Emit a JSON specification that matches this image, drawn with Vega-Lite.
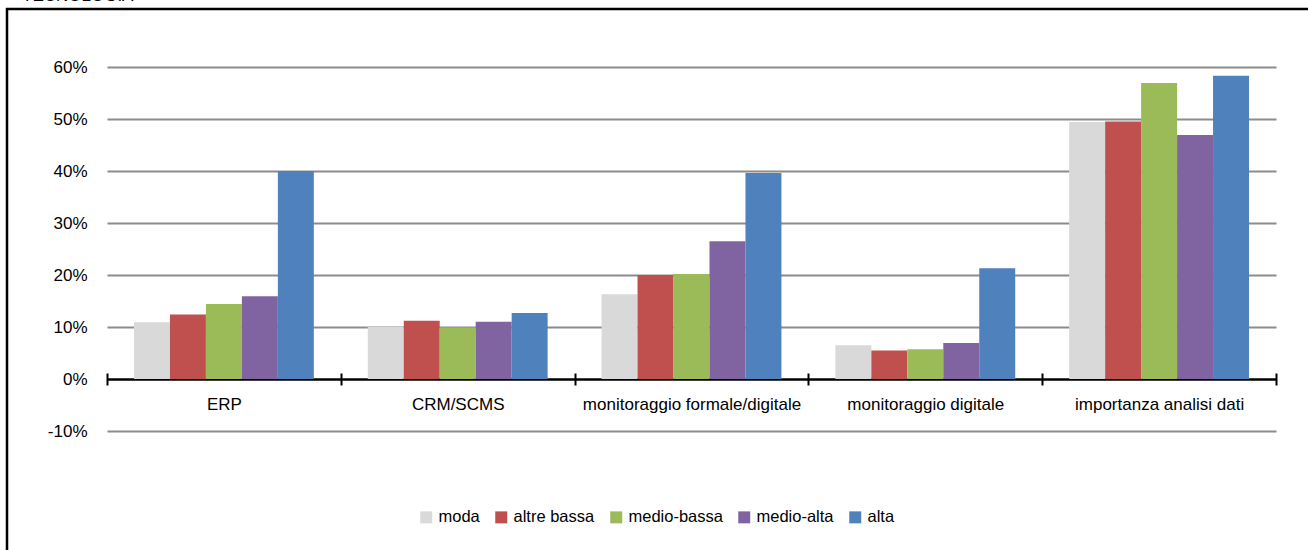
{
  "$schema": "https://vega.github.io/schema/vega-lite/v6.json",
  "width": 1330,
  "height": 580,
  "autosize": "none",
  "padding": {"left": 7, "top": 9, "right": 0, "bottom": 0},
  "background": "white",
  "config": {
    "view": {"stroke": "black", "strokeWidth": 2.5},
    "font": "Liberation Sans, Arial",
    "axis": {"labelFont": "Liberation Sans, Arial", "labelColor": "black"},
    "legend": {"labelFont": "Liberation Sans, Arial"}
  },
  "title": {
    "text": "TECNOLOGIA",
    "anchor": "start",
    "frame": "group",
    "offset": 4,
    "dx": 15,
    "fontSize": 17,
    "fontWeight": "normal",
    "color": "black",
    "font": "Liberation Sans, Arial"
  },
  "data": {
    "values": [
      {"categoria": "ERP", "gruppo": "moda", "valore": 0.109},
      {"categoria": "ERP", "gruppo": "altre bassa", "valore": 0.124},
      {"categoria": "ERP", "gruppo": "medio-bassa", "valore": 0.144},
      {"categoria": "ERP", "gruppo": "medio-alta", "valore": 0.159},
      {"categoria": "ERP", "gruppo": "alta", "valore": 0.400},
      {"categoria": "CRM/SCMS", "gruppo": "moda", "valore": 0.100},
      {"categoria": "CRM/SCMS", "gruppo": "altre bassa", "valore": 0.112},
      {"categoria": "CRM/SCMS", "gruppo": "medio-bassa", "valore": 0.099},
      {"categoria": "CRM/SCMS", "gruppo": "medio-alta", "valore": 0.110},
      {"categoria": "CRM/SCMS", "gruppo": "alta", "valore": 0.127},
      {"categoria": "monitoraggio formale/digitale", "gruppo": "moda", "valore": 0.163},
      {"categoria": "monitoraggio formale/digitale", "gruppo": "altre bassa", "valore": 0.200},
      {"categoria": "monitoraggio formale/digitale", "gruppo": "medio-bassa", "valore": 0.202},
      {"categoria": "monitoraggio formale/digitale", "gruppo": "medio-alta", "valore": 0.265},
      {"categoria": "monitoraggio formale/digitale", "gruppo": "alta", "valore": 0.396},
      {"categoria": "monitoraggio digitale", "gruppo": "moda", "valore": 0.065},
      {"categoria": "monitoraggio digitale", "gruppo": "altre bassa", "valore": 0.055},
      {"categoria": "monitoraggio digitale", "gruppo": "medio-bassa", "valore": 0.057},
      {"categoria": "monitoraggio digitale", "gruppo": "medio-alta", "valore": 0.069},
      {"categoria": "monitoraggio digitale", "gruppo": "alta", "valore": 0.213},
      {"categoria": "importanza analisi dati", "gruppo": "moda", "valore": 0.494},
      {"categoria": "importanza analisi dati", "gruppo": "altre bassa", "valore": 0.495},
      {"categoria": "importanza analisi dati", "gruppo": "medio-bassa", "valore": 0.569},
      {"categoria": "importanza analisi dati", "gruppo": "medio-alta", "valore": 0.469},
      {"categoria": "importanza analisi dati", "gruppo": "alta", "valore": 0.583}
    ]
  },
  "mark": {"type": "bar"},
  "encoding": {
    "x": {
      "field": "categoria",
      "type": "nominal",
      "sort": ["ERP", "CRM/SCMS", "monitoraggio formale/digitale", "monitoraggio digitale", "importanza analisi dati"],
      "scale": {"range": [100, 1269], "paddingInner": 0, "paddingOuter": 0},
      "axis": {
        "title": null,
        "orient": "bottom",
        "offset": -216,
        "domain": false,
        "ticks": true,
        "tickBand": "extent",
        "tickSize": 12,
        "tickWidth": 2,
        "tickColor": "black",
        "labelAngle": 0,
        "labelFontSize": 17,
        "labelPadding": 11,
        "labelLimit": 0,
        "labelColor": "black",
        "grid": false
      }
    },
    "xOffset": {
      "field": "gruppo",
      "type": "nominal",
      "sort": ["moda", "altre bassa", "medio-bassa", "medio-alta", "alta"],
      "scale": {"paddingInner": 0, "paddingOuter": 0.75}
    },
    "y": {
      "field": "valore",
      "type": "quantitative",
      "scale": {"domain": [-0.1, 0.6], "range": [422, 58], "nice": false, "zero": false},
      "axis": {
        "title": null,
        "values": [-0.1, 0, 0.1, 0.2, 0.3, 0.4, 0.5, 0.6],
        "format": ".0%",
        "labelExpr": "replace(datum.label, '\u2212', '-')",
        "offset": -84,
        "labelPadding": 4,
        "domain": false,
        "ticks": false,
        "labelFontSize": 17,
        "labelColor": "black",
        "grid": true,
        "gridColor": {"condition": {"test": "datum.value === 0", "value": "black"}, "value": "#8c8c8c"},
        "gridWidth": {"condition": {"test": "datum.value === 0", "value": 2.5}, "value": 2},
        "gridOpacity": 1
      }
    },
    "color": {
      "field": "gruppo",
      "type": "nominal",
      "sort": ["moda", "altre bassa", "medio-bassa", "medio-alta", "alta"],
      "scale": {
        "domain": ["moda", "altre bassa", "medio-bassa", "medio-alta", "alta"],
        "range": ["#d9d9d9", "#c0504d", "#9bbb59", "#8064a2", "#4f81bd"]
      },
      "legend": {
        "title": null,
        "orient": "none",
        "direction": "horizontal",
        "columns": 5,
        "legendX": 411,
        "legendY": 500,
        "symbolType": "square",
        "symbolSize": 144,
        "symbolStrokeWidth": 0,
        "symbolOpacity": 1,
        "labelFontSize": 16.5,
        "labelColor": "black",
        "labelOffset": 4,
        "columnPadding": 13,
        "padding": 0
      }
    }
  }
}
